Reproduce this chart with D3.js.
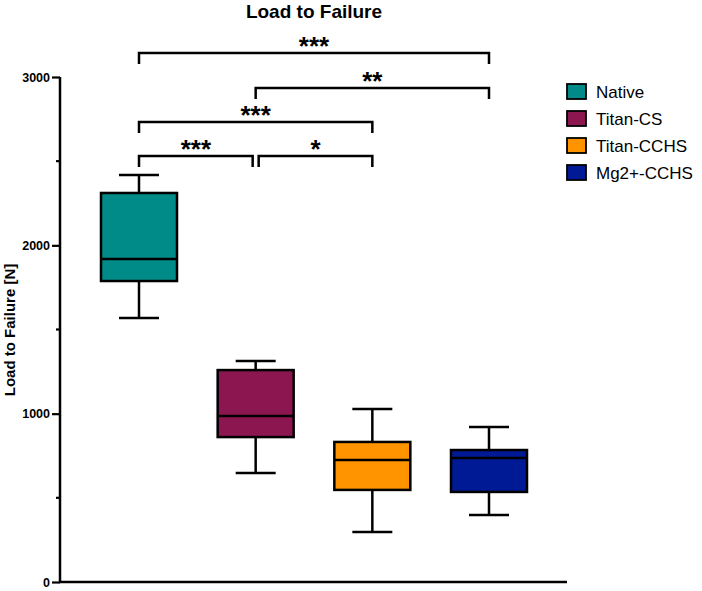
<!DOCTYPE html>
<html>
<head>
<meta charset="utf-8">
<script src="https://cdn.jsdelivr.net/npm/d3@7"></script>
<style>
  body { margin: 0; background: #fff; }
  svg text { font-family: Arial, "Liberation Sans", Helvetica, sans-serif; }
</style>
</head>
<body>
<div id="chart-area"></div>
<script>
var width = 702,
    height = 591;

// data
var groups = ["Native", "Titan-CS", "Titan-CCHS", "Mg2+-CCHS"];
var colors = ["#008b88", "#8c1650", "#ff9400", "#001a96"];
// box stats: min, q1, median, q3, max
var mins    = [1568, 648, 297, 398];
var q1s     = [1788, 861, 547, 535];
var medians = [1919, 986, 725, 737];
var q3s     = [2311, 1259, 832, 784];
var maxs    = [2418, 1313, 1028, 921];

var majorTicks = [0, 1000, 2000, 3000];
var minorTicks = [500, 1500, 2500];

// significance brackets: from group, to group, bracket height (data units), label
var comparisons = [
  { a: 0, b: 3, level: 3143, label: "***" },
  { a: 1, b: 3, level: 2935, label: "**" },
  { a: 0, b: 2, level: 2733, label: "***" },
  { a: 0, b: 1, level: 2531, label: "***" },
  { a: 1, b: 2, level: 2531, label: "*" }
];

var svg = d3.select("#chart-area").append("svg")
    .attr("width", width)
    .attr("height", height)
    .style("display", "block");

var x = d3.scalePoint()
    .domain(groups)
    .range([139, 489]);

var y = d3.scaleLinear()
    .domain([0, 3000])
    .range([582, 77]);

var axisX0 = 60, axisX1 = 567;
var boxW = 76, capW = 40;

// title
svg.append("text")
    .attr("x", 314)
    .attr("y", 18)
    .attr("text-anchor", "middle")
    .style("font-size", "19px")
    .style("font-weight", "bold")
    .text("Load to Failure");

// y axis label
svg.append("text")
    .attr("transform", "translate(15,330) rotate(-90)")
    .attr("text-anchor", "middle")
    .style("font-size", "15px")
    .style("font-weight", "bold")
    .text("Load to Failure [N]");

// y axis
var yAxis = svg.append("g")
    .attr("transform", "translate(" + axisX0 + ",0)")
    .call(d3.axisLeft(y).tickValues(majorTicks).tickSize(8).tickPadding(2).tickFormat(d3.format("d")));
yAxis.select(".domain").remove();
yAxis.selectAll(".tick line").attr("stroke", "#000").attr("stroke-width", 2.2);
yAxis.selectAll(".tick text")
    .style("font-size", "12.5px")
    .style("font-weight", "bold")
    .attr("fill", "#000");

svg.append("g")
    .selectAll("line")
    .data(minorTicks)
    .enter()
    .append("line")
    .attr("x1", axisX0 - 4)
    .attr("x2", axisX0)
    .attr("y1", d => y(d))
    .attr("y2", d => y(d))
    .attr("stroke", "#000")
    .attr("stroke-width", 2.2);

svg.append("line")
    .attr("x1", axisX0).attr("x2", axisX0)
    .attr("y1", y(3000)).attr("y2", y(0))
    .attr("stroke", "#000").attr("stroke-width", 2.5);

svg.append("line")
    .attr("x1", axisX0 - 1).attr("x2", axisX1)
    .attr("y1", y(0)).attr("y2", y(0))
    .attr("stroke", "#000").attr("stroke-width", 2.5);

// boxes
var idx = d3.range(groups.length);
var box = svg.selectAll(".box")
    .data(idx)
    .enter()
    .append("g")
    .attr("class", "box");

// whiskers
box.append("line")
    .attr("x1", i => x(groups[i])).attr("x2", i => x(groups[i]))
    .attr("y1", i => y(maxs[i])).attr("y2", i => y(mins[i]))
    .attr("stroke", "#000").attr("stroke-width", 2.5);
box.append("line")
    .attr("x1", i => x(groups[i]) - capW / 2).attr("x2", i => x(groups[i]) + capW / 2)
    .attr("y1", i => y(maxs[i])).attr("y2", i => y(maxs[i]))
    .attr("stroke", "#000").attr("stroke-width", 2.5);
box.append("line")
    .attr("x1", i => x(groups[i]) - capW / 2).attr("x2", i => x(groups[i]) + capW / 2)
    .attr("y1", i => y(mins[i])).attr("y2", i => y(mins[i]))
    .attr("stroke", "#000").attr("stroke-width", 2.5);

box.append("rect")
    .attr("x", i => x(groups[i]) - boxW / 2)
    .attr("width", boxW)
    .attr("y", i => y(q3s[i]))
    .attr("height", i => y(q1s[i]) - y(q3s[i]))
    .attr("fill", i => colors[i])
    .attr("stroke", "#000")
    .attr("stroke-width", 2.5);

box.append("line")
    .attr("x1", i => x(groups[i]) - boxW / 2).attr("x2", i => x(groups[i]) + boxW / 2)
    .attr("y1", i => y(medians[i])).attr("y2", i => y(medians[i]))
    .attr("stroke", "#000").attr("stroke-width", 2.5);

// brackets
var drop = 11;
comparisons.forEach(function(c) {
  var x1 = x(groups[c.a]), x2 = x(groups[c.b]);
  // leave a small gap where two brackets meet on the same level
  comparisons.forEach(function(o) {
    if (o === c || o.level !== c.level) return;
    if (o.a === c.b) x2 -= 3;
    if (o.b === c.a) x1 += 3;
  });
  var yl = y(c.level);
  svg.append("path")
      .attr("d", "M" + x1 + "," + (yl + drop) + "V" + yl + "H" + x2 + "V" + (yl + drop))
      .attr("fill", "none")
      .attr("stroke", "#000")
      .attr("stroke-width", 2.5);
  svg.append("text")
      .attr("x", (x1 + x2) / 2)
      .attr("y", yl + 2)
      .attr("text-anchor", "middle")
      .style("font-size", "26px")
      .style("font-weight", "bold")
      .text(c.label);
});

// legend
var legend = svg.selectAll(".legend")
    .data(idx)
    .enter()
    .append("g")
    .attr("class", "legend")
    .attr("transform", i => "translate(567," + (92 + i * 27) + ")");

legend.append("rect")
    .attr("x", 0).attr("y", -8)
    .attr("width", 19).attr("height", 15)
    .attr("fill", i => colors[i])
    .attr("stroke", "#000")
    .attr("stroke-width", 1.8);

legend.append("text")
    .attr("x", 29)
    .attr("y", 6)
    .style("font-size", "17px")
    .text(i => groups[i]);
</script>
</body>
</html>
